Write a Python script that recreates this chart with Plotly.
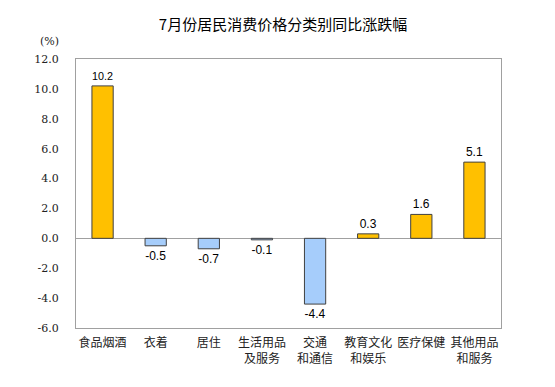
import plotly.graph_objects as go

categories = ["食品烟酒", "衣着", "居住", "生活用品<br>及服务", "交通<br>和通信",
              "教育文化<br>和娱乐", "医疗保健", "其他用品<br>和服务"]
values = [10.2, -0.5, -0.7, -0.1, -4.4, 0.3, 1.6, 5.1]
tick_vals = [-6, -4, -2, 0, 2, 4, 6, 8, 10, 12]
tick_text = ["-6.0", "-4.0", "-2.0", "0.0", "2.0", "4.0", "6.0", "8.0", "10.0", "12.0"]

colors = ["#FFC000" if v >= 0 else "#A6CDFB" for v in values]
labels = [f"{v:.1f}" for v in values]

W, H = 555, 387
OFF = 8  # page body margin offset
L, T = 76 - OFF, 59 - OFF
PW, PH = 425, 269
R, B = W - L - PW, H - T - PH

SERIF = "DejaVu Serif"

fig = go.Figure(go.Bar(
    x=categories, y=values,
    marker=dict(color=colors, line=dict(color="#404040", width=1)),
    width=0.4,
    text=labels, textposition="outside", cliponaxis=False,
    textfont=dict(family="Liberation Sans", size=12, color="#000000"),
))

fig.update_layout(
    width=W, height=H,
    margin=dict(l=L, r=R, t=T, b=B, autoexpand=False),
    paper_bgcolor="white", plot_bgcolor="white",
    showlegend=False,
    title=dict(text="7月份居民消费价格分类别同比涨跌幅", x=(283 - OFF) / W, xanchor="center",
               y=1 - (25 - OFF) / H, yanchor="middle", yref="container",
               font=dict(family="Noto Sans CJK SC", size=15, color="#000000")),
    xaxis=dict(showline=True, linecolor="#A0A0A0", linewidth=1, mirror=True,
               showgrid=False, ticks="", tickangle=0, ticklabelstandoff=4,
               tickfont=dict(family="Noto Sans CJK SC", size=12, color="#222222")),
    yaxis=dict(range=[-6, 12], tickvals=tick_vals, ticktext=tick_text,
               showline=True, linecolor="#A0A0A0", linewidth=1, mirror=True,
               showgrid=False, zeroline=True, zerolinecolor="#A0A0A0", zerolinewidth=1,
               ticks="", ticklabelstandoff=14,
               tickfont=dict(family=SERIF, size=11, color="#222222")),
    annotations=[dict(text="(%)", xref="paper", yref="paper", showarrow=False,
                      x=(49 - 76) / PW, y=(328 - 42) / PH,
                      xanchor="center", yanchor="middle",
                      font=dict(family=SERIF, size=11, color="#222222"))],
)

fig.write_html("out.html")
